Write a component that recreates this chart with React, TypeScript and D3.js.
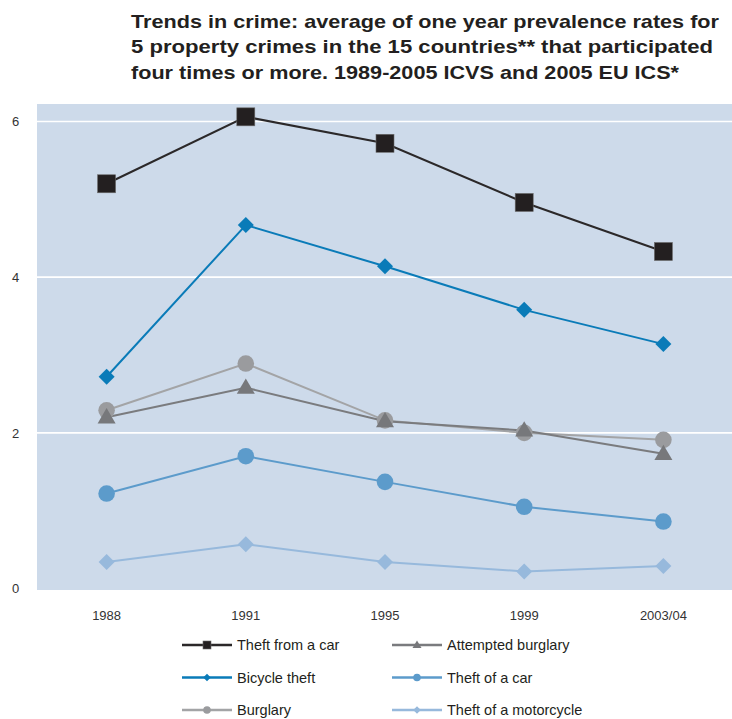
import React from "react";
import * as d3 from "d3";

const WIDTH = 732;
const HEIGHT = 719;

const titleLines = [
  "Trends in crime: average of one year prevalence rates for",
  "5 property crimes in the 15 countries** that participated",
  "four times or more. 1989-2005 ICVS and 2005 EU ICS*",
];
const titleWidths = [588, 582, 548];

const years = ["1988", "1991", "1995", "1999", "2003/04"];
const yTicks = [0, 2, 4, 6];

const theftFromCar = [5.2, 6.06, 5.72, 4.96, 4.33];
const bicycleTheft = [2.72, 4.67, 4.14, 3.58, 3.14];
const burglary = [2.29, 2.89, 2.16, 2.0, 1.91];
const attemptedBurglary = [2.2, 2.58, 2.15, 2.03, 1.73];
const theftOfCar = [1.22, 1.7, 1.37, 1.05, 0.86];
const theftOfMotorcycle = [0.34, 0.57, 0.34, 0.22, 0.29];

type Shape = "square" | "diamond" | "circle" | "triangle";

interface Series {
  name: string;
  values: number[];
  color: string;
  lineColor: string;
  shape: Shape;
  size: number;
}

// drawing order: lower series first, so darker marks sit on top
const series: Series[] = [
  { name: "Theft of a motorcycle", values: theftOfMotorcycle, color: "#97b9dc", lineColor: "#97b9dc", shape: "diamond", size: 8 },
  { name: "Theft of a car", values: theftOfCar, color: "#5c9bcb", lineColor: "#5c9bcb", shape: "circle", size: 8.3 },
  { name: "Burglary", values: burglary, color: "#9a9b9e", lineColor: "#a3a4a6", shape: "circle", size: 8.3 },
  { name: "Attempted burglary", values: attemptedBurglary, color: "#77787b", lineColor: "#7a7b7e", shape: "triangle", size: 9 },
  { name: "Bicycle theft", values: bicycleTheft, color: "#0a7bb8", lineColor: "#0a7bb8", shape: "diamond", size: 8 },
  { name: "Theft from a car", values: theftFromCar, color: "#231f20", lineColor: "#2b2829", shape: "square", size: 9 },
];

const legendOrder = [
  ["Theft from a car", "Attempted burglary"],
  ["Bicycle theft", "Theft of a car"],
  ["Burglary", "Theft of a motorcycle"],
];

const plot = { left: 37, right: 733, top: 104, bottom: 590 };

const x = d3.scalePoint<string>().domain(years).range([plot.left, plot.right]).padding(0.5);
const y = d3.scaleLinear().domain([0, 6]).range([588.5, 121.5]);

function Marker({ shape, cx, cy, s, color }: { shape: Shape; cx: number; cy: number; s: number; color: string }) {
  if (shape === "square") {
    return <rect x={cx - s} y={cy - s} width={2 * s} height={2 * s} fill={color} stroke="#6b6b6b" strokeWidth={0.6} />;
  }
  if (shape === "circle") {
    return <circle cx={cx} cy={cy} r={s} fill={color} />;
  }
  if (shape === "diamond") {
    const p = `M${cx},${cy - s}L${cx + s},${cy}L${cx},${cy + s}L${cx - s},${cy}Z`;
    return <path d={p} fill={color} />;
  }
  const h = s * 1.7;
  const p = `M${cx},${cy - h * 0.6}L${cx + s},${cy + h * 0.4}L${cx - s},${cy + h * 0.4}Z`;
  return <path d={p} fill={color} />;
}

const sans = "'Liberation Sans', Arial, Helvetica, sans-serif";

export default function App() {
  const line = d3
    .line<number>()
    .x((_, i) => x(years[i]) as number)
    .y((v) => y(v));

  const byName = new Map(series.map((s) => [s.name, s]));

  return (
    <div style={{ position: "absolute", left: 0, top: 0 }}>
      <svg width={WIDTH} height={HEIGHT} viewBox={`0 0 ${WIDTH} ${HEIGHT}`} style={{ display: "block", background: "#ffffff" }}>
        {/* title */}
        {titleLines.map((t, i) => (
          <text
            key={i}
            x={131}
            y={27.7 + i * 25.7}
            fontFamily={sans}
            fontWeight="bold"
            fontSize={18.6}
            fill="#231f20"
            textLength={titleWidths[i]}
            lengthAdjust="spacingAndGlyphs"
          >
            {t}
          </text>
        ))}

        {/* plot background */}
        <rect x={plot.left} y={plot.top} width={plot.right - plot.left} height={plot.bottom - plot.top} fill="#cddaea" />

        {/* gridlines */}
        {yTicks
          .filter((t) => t > 0)
          .map((t) => (
            <line key={t} x1={plot.left} x2={plot.right} y1={y(t)} y2={y(t)} stroke="#ffffff" strokeWidth={1.6} />
          ))}

        {/* y tick labels */}
        {yTicks.map((t) => (
          <text key={t} x={15.5} y={y(t)} dy="0.36em" textAnchor="middle" fontFamily={sans} fontSize={13} fill="#333">
            {t}
          </text>
        ))}

        {/* x tick labels */}
        {years.map((yr) => (
          <text key={yr} x={x(yr)} y={620} textAnchor="middle" fontFamily={sans} fontSize={13} fill="#333">
            {yr}
          </text>
        ))}

        {/* series lines */}
        {series.map((s) => (
          <path key={s.name} d={line(s.values) ?? ""} fill="none" stroke={s.lineColor} strokeWidth={2} />
        ))}

        {/* markers */}
        {series.map((s) => (
          <g key={s.name}>
            {s.values.map((v, i) => (
              <Marker key={i} shape={s.shape} cx={x(years[i]) as number} cy={y(v)} s={s.size} color={s.color} />
            ))}
          </g>
        ))}

        {/* legend */}
        {legendOrder.map((row, r) =>
          row.map((name, c) => {
            const s = byName.get(name)!;
            const lx = c === 0 ? 182 : 392;
            const ly = 645 + r * 32.5;
            return (
              <g key={name}>
                <line x1={lx} x2={lx + 50} y1={ly} y2={ly} stroke={s.lineColor} strokeWidth={2.5} />
                <Marker shape={s.shape} cx={lx + 25} cy={ly} s={s.shape === "square" ? 4 : s.shape === "triangle" ? 4.5 : 3.8} color={s.color} />
                <text x={lx + 55} y={ly} dy="0.36em" fontFamily={sans} fontSize={14.5} fill="#231f20">
                  {name}
                </text>
              </g>
            );
          })
        )}
      </svg>
    </div>
  );
}
